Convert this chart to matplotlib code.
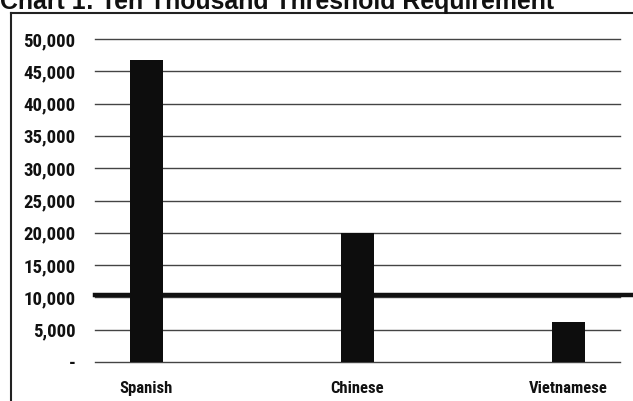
import matplotlib
matplotlib.use("Agg")
import matplotlib.pyplot as plt
from matplotlib.lines import Line2D
from matplotlib.ticker import FuncFormatter
from matplotlib import font_manager as fm

categories = ["Spanish", "Chinese", "Vietnamese"]
values = [46700, 20000, 6200]
threshold = 10300
yticks = [0, 5000, 10000, 15000, 20000, 25000, 30000, 35000, 40000, 45000, 50000]
title = "Chart 1: Ten Thousand Threshold Requirement"

# look for an installed condensed bold face
cond_path = None
cands = []
for f in fm.fontManager.ttflist:
    n = (f.fname or "").lower()
    if ("narrow" in n or "condensed" in n) and ("bold" in n) and "oblique" not in n and "italic" not in n:
        cands.append(f.fname)
pref = ["liberationsansnarrow", "robotocondensed", "opensanscondensed", "dejavusanscondensed"]
for p in pref:
    for c in cands:
        if p in c.lower().replace("-", "").replace("_", ""):
            cond_path = c
            break
    if cond_path:
        break
if cond_path is None and cands:
    cond_path = cands[0]

W, H = 633, 401
fig = plt.figure(figsize=(W / 100, H / 100), dpi=100)
fig.patch.set_facecolor("white")

x0, x1 = 95, 620
y_top, y_bot = 39, 362
ax = fig.add_axes([x0 / W, 1 - y_bot / H, (x1 - x0) / W, (y_bot - y_top) / H])

xpos = list(range(len(categories)))
ax.bar(xpos, values, width=0.157, color="#0d0d0d", zorder=3)
ax.axhline(threshold, xmin=0, xmax=1.02, color="#111111", lw=3.2, zorder=2, clip_on=False)

ax.set_xlim(-0.244, 2.246)
ax.set_ylim(0, 50000)
ax.set_yticks(yticks)
ax.yaxis.set_major_formatter(FuncFormatter(lambda v, p: "-" if v == 0 else f"{int(v):,}"))
ax.set_xticks(xpos)
ax.set_xticklabels(categories)
ax.grid(axis="y", color="#444444", lw=1.0, zorder=1)
ax.set_axisbelow(True)
for gl in ax.yaxis.get_gridlines():
    gl.set_clip_on(False)
for s in ax.spines.values():
    s.set_visible(False)
ax.tick_params(axis="y", length=0, pad=14)
ax.tick_params(axis="x", length=0, pad=14)

if cond_path:
    fp_y = fm.FontProperties(fname=cond_path, size=13.5)
    fp_x = fm.FontProperties(fname=cond_path, size=12)
else:
    fp_y = fm.FontProperties(family="DejaVu Sans", weight="bold", stretch="condensed", size=10)
    fp_x = fm.FontProperties(family="DejaVu Sans", weight="bold", stretch="condensed", size=10)
for lab in ax.get_yticklabels():
    lab.set_fontproperties(fp_y)
    lab.set_color("#111111")
for lab in ax.get_xticklabels():
    lab.set_fontproperties(fp_x)
    lab.set_color("#111111")

fig.add_artist(Line2D([11 / W, 1.0], [1 - 13 / H, 1 - 13 / H], color="#222222", lw=1.5))
fig.add_artist(Line2D([11 / W, 11 / W], [0, 1 - 13 / H], color="#222222", lw=1.5))

fig.text(0.0 / W, 1 - 9 / H, title, fontsize=17.9, fontweight="bold",
         family=["Liberation Sans", "DejaVu Sans"], va="baseline", ha="left", color="#111111")

fig.savefig("out.png", dpi=100, facecolor="white")
